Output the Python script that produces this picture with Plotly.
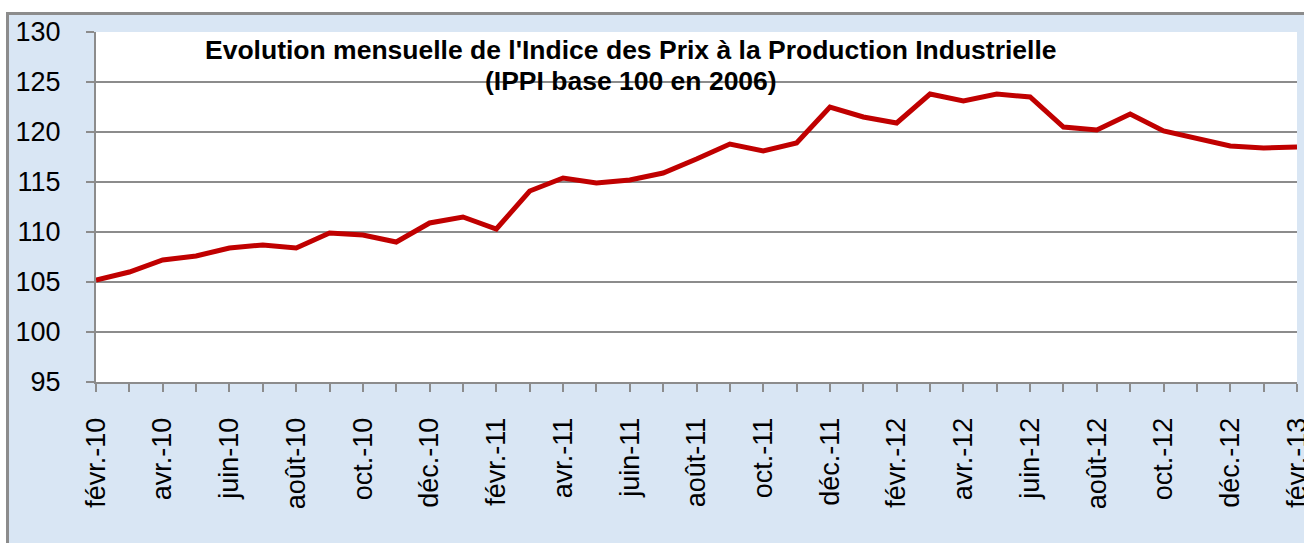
import plotly.graph_objects as go

months = ["févr.-10", "mars-10", "avr.-10", "mai-10", "juin-10", "juil.-10", "août-10", "sept.-10",
          "oct.-10", "nov.-10", "déc.-10", "janv.-11", "févr.-11", "mars-11", "avr.-11", "mai-11",
          "juin-11", "juil.-11", "août-11", "sept.-11", "oct.-11", "nov.-11", "déc.-11", "janv.-12",
          "févr.-12", "mars-12", "avr.-12", "mai-12", "juin-12", "juil.-12", "août-12", "sept.-12",
          "oct.-12", "nov.-12", "déc.-12", "janv.-13", "févr.-13"]
ippi = [105.2, 106.0, 107.2, 107.6, 108.4, 108.7, 108.4, 109.9, 109.7, 109.0, 110.9, 111.5,
        110.3, 114.1, 115.4, 114.9, 115.2, 115.9, 117.3, 118.8, 118.1, 118.9, 122.5, 121.5,
        120.9, 123.8, 123.1, 123.8, 123.5, 120.5, 120.2, 121.8, 120.1, 119.4, 118.6, 118.4, 118.5]
tick_labels = [m if i % 2 == 0 else "" for i, m in enumerate(months)]
y_ticks = [95, 100, 105, 110, 115, 120, 125, 130]

title_lines = ["Evolution mensuelle de l'Indice des Prix à la Production Industrielle",
               "(IPPI base 100 en 2006)"]

W, H = 1304, 543
L, R, T, B = 96, 7, 32, 161
pw, ph = W - L - R, H - T - B


def px_x(p):
    return (p - L) / pw


def px_y(p):
    return (H - B - p) / ph


fig = go.Figure()
fig.add_trace(go.Scatter(x=months, y=ippi, mode="lines",
                         line=dict(color="#c00000", width=5), showlegend=False,
                         hoverinfo="x+y"))

shapes = [
    dict(type="rect", xref="paper", yref="paper", x0=px_x(-5), x1=px_x(7), y0=px_y(560), y1=px_y(-5),
         fillcolor="white", line=dict(width=0), layer="below"),
    dict(type="rect", xref="paper", yref="paper", x0=px_x(-5), x1=px_x(1320), y0=px_y(12.5), y1=px_y(-5),
         fillcolor="white", line=dict(width=0), layer="below"),
    dict(type="line", xref="paper", yref="paper", x0=px_x(7.5), x1=px_x(7.5), y0=px_y(560), y1=px_y(12),
         line=dict(color="#8c8c8c", width=3)),
    dict(type="line", xref="paper", yref="paper", x0=px_x(6), x1=px_x(1320), y0=px_y(13.5), y1=px_y(13.5),
         line=dict(color="#8c8c8c", width=3)),
]

fig.update_layout(
    width=W, height=H,
    margin=dict(l=L, r=R, t=T, b=B, pad=0, autoexpand=False),
    paper_bgcolor="#d9e6f4",
    plot_bgcolor="white",
    font=dict(family="Liberation Sans, Arial, sans-serif", color="black"),
    shapes=shapes,
    annotations=[
        dict(text="<b>" + title_lines[0] + "</b>", xref="paper", yref="paper",
             x=px_x(631), y=px_y(50), xanchor="center", yanchor="middle",
             showarrow=False, font=dict(size=26.5, color="black")),
        dict(text="<b>" + title_lines[1] + "</b>", xref="paper", yref="paper",
             x=px_x(631), y=px_y(81), xanchor="center", yanchor="middle",
             showarrow=False, font=dict(size=26.5, color="black")),
    ],
    xaxis=dict(
        type="category", range=[0, len(months) - 1],
        tickmode="array", tickvals=months, ticktext=tick_labels,
        tickangle=-90, tickfont=dict(size=27),
        ticks="outside", ticklen=8, tickwidth=2, tickcolor="#8c8c8c",
        showline=True, linecolor="#8c8c8c", linewidth=2,
        showgrid=False, zeroline=False, ticklabelstandoff=15, automargin=False,
    ),
    yaxis=dict(
        range=[95, 130], tickmode="array", tickvals=y_ticks,
        tickfont=dict(size=27),
        ticks="outside", ticklen=8, tickwidth=2, tickcolor="#8c8c8c",
        showline=True, linecolor="#8c8c8c", linewidth=2,
        showgrid=True, gridcolor="#8c8c8c", gridwidth=2,
        zeroline=False, ticklabelstandoff=20, automargin=False,
    ),
)

fig.write_html("out.html", config={"displayModeBar": False},
               post_script="document.body.style.margin='0';document.body.style.overflow='hidden';")
